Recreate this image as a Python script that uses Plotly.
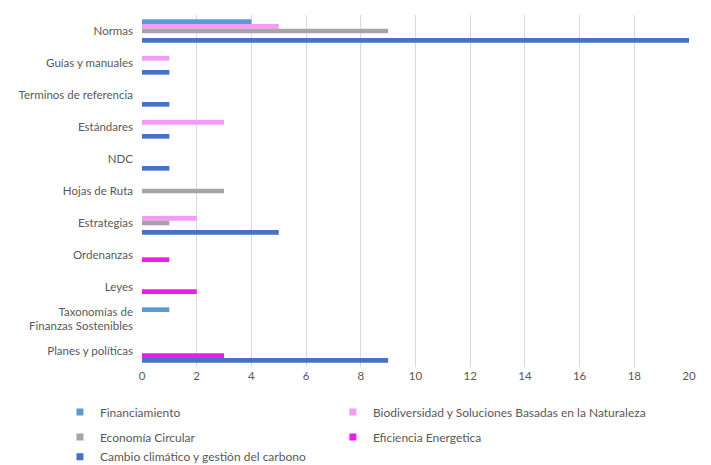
import plotly.graph_objects as go

categories = ["Normas", "Guías y manuales", "Terminos de referencia", "Estándares", "NDC",
              "Hojas de Ruta", "Estrategias", "Ordenanzas", "Leyes",
              "Taxonomías de<br>Finanzas Sostenibles", "Planes y políticas"]

series_names = ["Financiamiento", "Biodiversidad y Soluciones Basadas en la Naturaleza",
                "Economía Circular", "Eficiencia Energetica",
                "Cambio climático y gestión del carbono"]

financiamiento = [4, None, None, None, None, None, None, None, None, 1, None]
biodiversidad = [5, 1, None, 3, None, None, 2, None, None, None, None]
economia_circular = [9, None, None, None, None, 3, 1, None, None, None, None]
eficiencia_energetica = [None, None, None, None, None, None, None, 1, 2, None, 3]
cambio_climatico = [20, 1, 1, 1, 1, None, 5, None, None, None, 9]

series_values = [financiamiento, biodiversidad, economia_circular, eficiencia_energetica, cambio_climatico]
colors = ["#5B9BD5", "#F59BF5", "#A5A5A5", "#EC1EE6", "#4472C4"]
legend_ids = ["legend", "legend2", "legend3", "legend4", "legend5"]

x_ticks = list(range(0, 21, 2))

font_family = "Lato, 'Open Sans', sans-serif"
text_color = "#595959"

fig = go.Figure()
for name, vals, col in zip(series_names, series_values, colors):
    fig.add_trace(go.Bar(y=categories, x=vals, name=name, orientation="h",
                         marker=dict(color=col, line=dict(width=0)), showlegend=False))
for name, col, lg in zip(series_names, colors, legend_ids):
    fig.add_trace(go.Scatter(x=[None], y=[None], mode="markers", name=name, legend=lg,
                             marker=dict(symbol="square", size=7, color=col)))

def leg(x, y):
    return dict(orientation="v", x=x, xanchor="left", y=y, yanchor="middle",
                bgcolor="rgba(0,0,0,0)",
                font=dict(size=12, color=text_color, family=font_family))

col_left, col_right = -0.15, 0.349
row1, row2, row3 = -0.128, -0.199, -0.255

fig.update_layout(
    width=711, height=465,
    margin=dict(l=142, r=22, t=15, b=98, autoexpand=False),
    paper_bgcolor="white", plot_bgcolor="white",
    barmode="group", bargap=0.27, bargroupgap=0,
    font=dict(family=font_family, size=11.5, color=text_color),
    xaxis=dict(range=[0, 20], tickvals=x_ticks, showgrid=True, gridcolor="#D9D9D9",
               gridwidth=1, zeroline=False, showline=False, ticks="",
               tickfont=dict(size=11.5, color=text_color)),
    yaxis=dict(type="category", autorange="reversed", showgrid=False, zeroline=False,
               showline=False, ticks="", ticklabelstandoff=8,
               tickfont=dict(size=11.5, color=text_color)),
    legend=leg(col_left, row1),
    legend2=leg(col_right, row1),
    legend3=leg(col_left, row2),
    legend4=leg(col_right, row2),
    legend5=leg(col_left, row3),
)

fig.write_html("out.html")
